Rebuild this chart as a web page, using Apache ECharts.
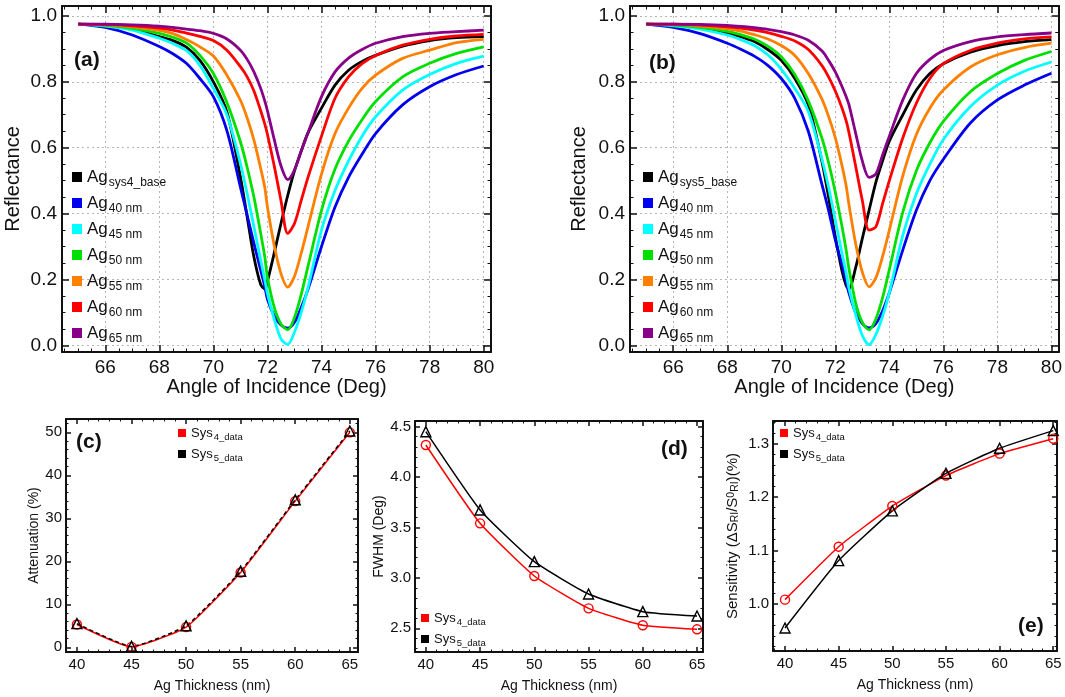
<!DOCTYPE html>
<html>
<head>
<meta charset="utf-8">
<title>Ag thickness SPR</title>
<script src="https://cdn.jsdelivr.net/npm/echarts@6/dist/echarts.min.js"></script>
<style>
    html, body { margin: 0; padding: 0; background: #fff; }
    #main { width: 1065px; height: 697px; }
</style>
</head>
<body>
<div id="main"></div>
<script>
'use strict';
// (a) sys4: reflectance vs angle
var angleA = [65, 66, 67, 68, 68.5, 69, 69.5, 70, 70.5, 71, 71.25, 71.5, 71.75, 71.9, 72, 72.25, 72.5, 72.75, 73, 73.25, 73.5, 74, 74.5, 75, 75.5, 76, 77, 78, 79, 80];
var a_base = [0.975, 0.97, 0.96, 0.937, 0.925, 0.905, 0.865, 0.80, 0.709, 0.511, 0.39, 0.268, 0.185, 0.172, 0.195, 0.28, 0.37, 0.455, 0.53, 0.59, 0.645, 0.72, 0.79, 0.835, 0.862, 0.88, 0.908, 0.925, 0.934, 0.937];
var a_40 = [0.975, 0.965, 0.942, 0.907, 0.885, 0.856, 0.81, 0.755, 0.652, 0.48, 0.395, 0.31, 0.228, 0.18, 0.14, 0.09, 0.062, 0.052, 0.07, 0.115, 0.17, 0.30, 0.42, 0.51, 0.58, 0.643, 0.73, 0.785, 0.822, 0.848];
var a_45 = [0.975, 0.969, 0.957, 0.932, 0.916, 0.895, 0.85, 0.78, 0.70, 0.552, 0.46, 0.36, 0.258, 0.2, 0.157, 0.08, 0.02, 0.003, 0.04, 0.1, 0.175, 0.35, 0.47, 0.56, 0.635, 0.694, 0.775, 0.822, 0.856, 0.878];
var a_50 = [0.975, 0.971, 0.962, 0.947, 0.935, 0.918, 0.88, 0.825, 0.737, 0.618, 0.54, 0.45, 0.34, 0.27, 0.207, 0.116, 0.065, 0.047, 0.085, 0.155, 0.24, 0.41, 0.535, 0.62, 0.685, 0.74, 0.815, 0.856, 0.886, 0.906];
var a_55 = [0.975, 0.973, 0.967, 0.956, 0.946, 0.928, 0.906, 0.878, 0.82, 0.744, 0.69, 0.623, 0.537, 0.48, 0.42, 0.304, 0.218, 0.177, 0.21, 0.28, 0.36, 0.52, 0.643, 0.72, 0.78, 0.82, 0.871, 0.896, 0.919, 0.929];
var a_60 = [0.975, 0.974, 0.97, 0.963, 0.957, 0.948, 0.938, 0.925, 0.896, 0.846, 0.815, 0.772, 0.712, 0.672, 0.64, 0.545, 0.44, 0.34, 0.37, 0.44, 0.51, 0.635, 0.75, 0.815, 0.855, 0.88, 0.911, 0.929, 0.939, 0.944];
var a_65 = [0.975, 0.975, 0.973, 0.969, 0.965, 0.96, 0.955, 0.947, 0.93, 0.896, 0.868, 0.83, 0.78, 0.742, 0.712, 0.625, 0.545, 0.503, 0.532, 0.59, 0.645, 0.755, 0.83, 0.872, 0.898, 0.917, 0.937, 0.947, 0.952, 0.957];

// (b) sys5: reflectance vs angle
var angleB = [65, 66, 67, 68, 68.5, 69, 69.5, 70, 70.5, 71, 71.5, 71.75, 72, 72.25, 72.4, 72.5, 72.75, 73, 73.25, 73.5, 73.75, 74, 74.5, 75, 75.5, 76, 77, 78, 79, 80];
var b_base = [0.975, 0.971, 0.963, 0.948, 0.937, 0.922, 0.898, 0.865, 0.81, 0.73, 0.56, 0.45, 0.33, 0.225, 0.182, 0.172, 0.235, 0.325, 0.41, 0.495, 0.56, 0.62, 0.70, 0.775, 0.825, 0.855, 0.89, 0.91, 0.922, 0.928];
var b_40 = [0.975, 0.965, 0.946, 0.917, 0.899, 0.878, 0.85, 0.81, 0.75, 0.65, 0.49, 0.41, 0.32, 0.245, 0.195, 0.16, 0.10, 0.066, 0.053, 0.066, 0.105, 0.16, 0.29, 0.41, 0.50, 0.565, 0.675, 0.745, 0.79, 0.826];
var b_45 = [0.975, 0.97, 0.96, 0.942, 0.928, 0.91, 0.882, 0.838, 0.78, 0.71, 0.567, 0.48, 0.38, 0.278, 0.22, 0.175, 0.095, 0.03, 0.002, 0.033, 0.088, 0.16, 0.335, 0.46, 0.55, 0.625, 0.725, 0.79, 0.832, 0.86];
var b_50 = [0.975, 0.972, 0.965, 0.953, 0.943, 0.93, 0.908, 0.876, 0.822, 0.742, 0.63, 0.555, 0.465, 0.36, 0.29, 0.235, 0.13, 0.07, 0.047, 0.08, 0.145, 0.23, 0.405, 0.53, 0.615, 0.68, 0.77, 0.825, 0.865, 0.892];
var b_55 = [0.975, 0.974, 0.969, 0.961, 0.954, 0.943, 0.93, 0.91, 0.88, 0.825, 0.748, 0.695, 0.63, 0.545, 0.485, 0.43, 0.31, 0.222, 0.178, 0.205, 0.27, 0.35, 0.515, 0.64, 0.72, 0.775, 0.845, 0.882, 0.904, 0.917];
var b_60 = [0.975, 0.975, 0.972, 0.967, 0.963, 0.957, 0.949, 0.938, 0.924, 0.898, 0.85, 0.815, 0.772, 0.72, 0.682, 0.648, 0.545, 0.44, 0.35, 0.36, 0.43, 0.5, 0.63, 0.735, 0.81, 0.855, 0.895, 0.917, 0.93, 0.936];
var b_65 = [0.975, 0.975, 0.974, 0.971, 0.968, 0.964, 0.959, 0.952, 0.942, 0.926, 0.894, 0.865, 0.83, 0.785, 0.755, 0.732, 0.645, 0.56, 0.51, 0.52, 0.578, 0.635, 0.745, 0.825, 0.868, 0.895, 0.922, 0.936, 0.943, 0.948];

// (c)-(e) vs Ag thickness
var thickness = [40, 45, 50, 55, 60, 65];
var att4 = [5.3, 0.1, 4.7, 17.4, 34.0, 50.0];
var att5 = [5.5, 0.2, 5.0, 17.7, 34.3, 50.3];
var fwhm4 = [4.318, 3.541, 3.019, 2.698, 2.530, 2.490];
var fwhm5 = [4.450, 3.674, 3.161, 2.840, 2.665, 2.622];
var sens4 = [1.008, 1.107, 1.183, 1.240, 1.281, 1.309];
var sens5 = [0.955, 1.081, 1.174, 1.244, 1.291, 1.324];

var FONT = 'Liberation Sans, Arial, sans-serif';
var INK = '#111';

var chart = echarts.init(document.getElementById('main'));

function pairs(xs, ys) {
    return xs.map(function (x, i) {
        return [x, ys[i]];
    });
}

// only label the real tick steps, not the extent ends
function tickFmt(step, dec) {
    return function (v) {
        var k = v / step;
        if (Math.abs(k - Math.round(k)) > 1e-6) {
            return '';
        }
        return v.toFixed(dec);
    };
}

// two axes per dimension so the frame has ticks on all four sides
function axisPair(dim, grid, r, nm) {
    var sides = dim === 'x' ? ['bottom', 'top'] : ['left', 'right'];
    return sides.map(function (side, k) {
        var main = k === 0;
        return {
            type: 'value',
            gridIndex: grid,
            position: side,
            min: r.min,
            max: r.max,
            minInterval: r.step,
            maxInterval: r.step,
            name: main ? nm.text : '',
            nameLocation: 'middle',
            nameGap: nm.gap,
            nameTextStyle: { fontFamily: FONT, fontSize: nm.size, color: INK, rich: nm.rich },
            axisLine: { show: true, onZero: false, lineStyle: { color: INK, width: 2 } },
            axisTick: { show: true, inside: true, length: r.tick, lineStyle: { color: INK, width: 1.5 } },
            minorTick: { show: true, splitNumber: r.minor, length: r.tick / 2, lineStyle: { color: INK, width: 1 } },
            axisLabel: {
                show: main,
                margin: r.margin,
                fontFamily: FONT,
                fontSize: r.font,
                color: INK,
                showMinLabel: true,
                showMaxLabel: true,
                formatter: tickFmt(r.step, r.dec)
            },
            splitLine: { show: main && !!r.dotted, lineStyle: { type: [2, 3], color: '#b5b5b5', width: 1 } },
            minorSplitLine: { show: false }
        };
    });
}

var angX = { min: 64.4, max: 80.27, step: 2, minor: 4, tick: 7, margin: 6, font: 19, dec: 0, dotted: true };
var refY = { min: -0.02, max: 1.03, step: 0.2, minor: 4, tick: 7, margin: 5, font: 19, dec: 1, dotted: true };
var angName = { text: 'Angle of Incidence (Deg)', gap: 24, size: 20 };
var thkName = { text: 'Ag Thickness (nm)', gap: 27, size: 14 };

var subRich = {
    s: { fontFamily: FONT, fontSize: 10.5, lineHeight: 10, padding: [8, 0, 0, 0], verticalAlign: 'bottom', color: INK },
    p: { fontFamily: FONT, fontSize: 10.5, lineHeight: 10, padding: [0, 0, 8, 0], verticalAlign: 'top', color: INK }
};

var xAxes = [].concat(
    axisPair('x', 0, angX, angName),
    axisPair('x', 1, angX, angName),
    axisPair('x', 2, { min: 39, max: 65.75, step: 5, minor: 5, tick: 5, margin: 5, font: 15, dec: 0 }, thkName),
    axisPair('x', 3, { min: 39, max: 65.55, step: 5, minor: 5, tick: 5, margin: 5, font: 15, dec: 0 }, thkName),
    axisPair('x', 4, { min: 38.88, max: 65.35, step: 5, minor: 5, tick: 5, margin: 5, font: 15, dec: 0 }, thkName)
);
var yAxes = [].concat(
    axisPair('y', 0, refY, { text: 'Reflectance', gap: 39, size: 20 }),
    axisPair('y', 1, refY, { text: 'Reflectance', gap: 41, size: 20 }),
    axisPair('y', 2, { min: -1.1, max: 53.1, step: 10, minor: 5, tick: 5, margin: 4, font: 15, dec: 0 },
        { text: 'Attenuation (%)', gap: 24, size: 14 }),
    axisPair('y', 3, { min: 2.265, max: 4.556, step: 0.5, minor: 5, tick: 5, margin: 4, font: 15, dec: 1 },
        { text: 'FWHM (Deg)', gap: 27, size: 14 }),
    axisPair('y', 4, { min: 0.912, max: 1.342, step: 0.1, minor: 5, tick: 5, margin: 4, font: 15, dec: 1 },
        { text: 'Sensitivity (ΔS{s|RI}/S{p|0}{s|RI})(%)', gap: 27, size: 15, rich: subRich })
);

// reflectance curve
function curve(name, color, xs, ys, g) {
    return {
        type: 'line',
        name: name,
        xAxisIndex: 2 * g,
        yAxisIndex: 2 * g,
        data: pairs(xs, ys),
        showSymbol: false,
        smooth: 0.3,
        silent: true,
        lineStyle: { color: color, width: 2.8 },
        itemStyle: { color: color }
    };
}

// thickness series with open markers
function sysLine(name, xs, ys, g, tri, dashed) {
    var col = tri ? '#000' : '#f00';
    return {
        type: 'line',
        name: name,
        xAxisIndex: 2 * g,
        yAxisIndex: 2 * g,
        data: pairs(xs, ys),
        smooth: 0.15,
        symbol: tri ? 'triangle' : 'circle',
        symbolSize: tri ? 10 : 9,
        showSymbol: true,
        silent: true,
        lineStyle: { color: col, width: 1.5, type: dashed ? [4, 3] : 'solid' },
        itemStyle: { color: 'rgba(255,255,255,0)', borderColor: col, borderWidth: 1.4 }
    };
}

var colors = { base: '#000', n40: '#0000ee', n45: '#00ffff', n50: '#00e000', n55: '#ff8000', n60: '#ff0000', n65: '#880088' };

var series = [
    curve('Agsys4_base', colors.base, angleA, a_base, 0),
    curve('Ag40 nm', colors.n40, angleA, a_40, 0),
    curve('Ag45 nm', colors.n45, angleA, a_45, 0),
    curve('Ag50 nm', colors.n50, angleA, a_50, 0),
    curve('Ag55 nm', colors.n55, angleA, a_55, 0),
    curve('Ag60 nm', colors.n60, angleA, a_60, 0),
    curve('Ag65 nm', colors.n65, angleA, a_65, 0),
    curve('Agsys5_base', colors.base, angleB, b_base, 1),
    curve('Ag40 nm', colors.n40, angleB, b_40, 1),
    curve('Ag45 nm', colors.n45, angleB, b_45, 1),
    curve('Ag50 nm', colors.n50, angleB, b_50, 1),
    curve('Ag55 nm', colors.n55, angleB, b_55, 1),
    curve('Ag60 nm', colors.n60, angleB, b_60, 1),
    curve('Ag65 nm', colors.n65, angleB, b_65, 1),
    sysLine('Sys4_data', thickness, att4, 2, false, false),
    sysLine('Sys5_data', thickness, att5, 2, true, true),
    sysLine('Sys4_data', thickness, fwhm4, 3, false, false),
    sysLine('Sys5_data', thickness, fwhm5, 3, true, false),
    sysLine('Sys4_data', thickness, sens4, 4, false, false),
    sysLine('Sys5_data', thickness, sens5, 4, true, false)
];

var bigRich = {
    m: { fontFamily: FONT, fontSize: 17, lineHeight: 24, verticalAlign: 'middle', color: INK },
    s: { fontFamily: FONT, fontSize: 12, lineHeight: 12, padding: [12, 0, 0, 1], verticalAlign: 'bottom', color: INK }
};
var smallRich = {
    m: { fontFamily: FONT, fontSize: 13, lineHeight: 18, verticalAlign: 'middle', color: INK },
    s: { fontFamily: FONT, fontSize: 9.5, lineHeight: 9, padding: [9, 0, 0, 1], verticalAlign: 'bottom', color: INK }
};

function agLegend(names, left) {
    return {
        data: names.map(function (n) {
            return { name: n, icon: 'rect' };
        }),
        orient: 'vertical',
        left: left,
        top: 165,
        padding: 0,
        itemGap: 2,
        itemWidth: 10,
        itemHeight: 10,
        selectedMode: false,
        formatter: function (name) {
            return '{m|Ag}{s|' + name.slice(2) + '}';
        },
        textStyle: { rich: bigRich }
    };
}

function sysLegend(left, top) {
    return {
        data: [
            { name: 'Sys4_data', icon: 'rect', itemStyle: { color: '#f00', borderWidth: 0 } },
            { name: 'Sys5_data', icon: 'rect', itemStyle: { color: '#000', borderWidth: 0 } }
        ],
        orient: 'vertical',
        left: left,
        top: top,
        padding: 0,
        itemGap: 2,
        itemWidth: 8,
        itemHeight: 8,
        selectedMode: false,
        formatter: function (name) {
            return '{m|Sys}{s|' + name.slice(3) + '}';
        },
        textStyle: { rich: smallRich }
    };
}

function tag(text, left, top) {
    return {
        text: text,
        left: left,
        top: top,
        padding: 0,
        textStyle: { fontFamily: FONT, fontSize: 21, fontWeight: 'bold', color: INK }
    };
}

var option = {
    animation: false,
    backgroundColor: '#fff',
    title: [
        tag('(a)', 74, 50),
        tag('(b)', 649, 53),
        tag('(c)', 76, 432),
        tag('(d)', 661, 439),
        tag('(e)', 1018, 616)
    ],
    legend: [
        agLegend(['Agsys4_base', 'Ag40 nm', 'Ag45 nm', 'Ag50 nm', 'Ag55 nm', 'Ag60 nm', 'Ag65 nm'], 72),
        agLegend(['Agsys5_base', 'Ag40 nm', 'Ag45 nm', 'Ag50 nm', 'Ag55 nm', 'Ag60 nm', 'Ag65 nm'], 643),
        sysLegend(178, 423),
        sysLegend(421, 608),
        sysLegend(780, 423)
    ],
    grid: [
        { left: 62, top: 6, width: 429, height: 346 },
        { left: 630, top: 6, width: 429, height: 346 },
        { left: 66, top: 419, width: 292, height: 233 },
        { left: 415, top: 421, width: 288, height: 231 },
        { left: 773, top: 421, width: 284, height: 230 }
    ],
    xAxis: xAxes,
    yAxis: yAxes,
    series: series
};

chart.setOption(option);
</script>
</body>
</html>
